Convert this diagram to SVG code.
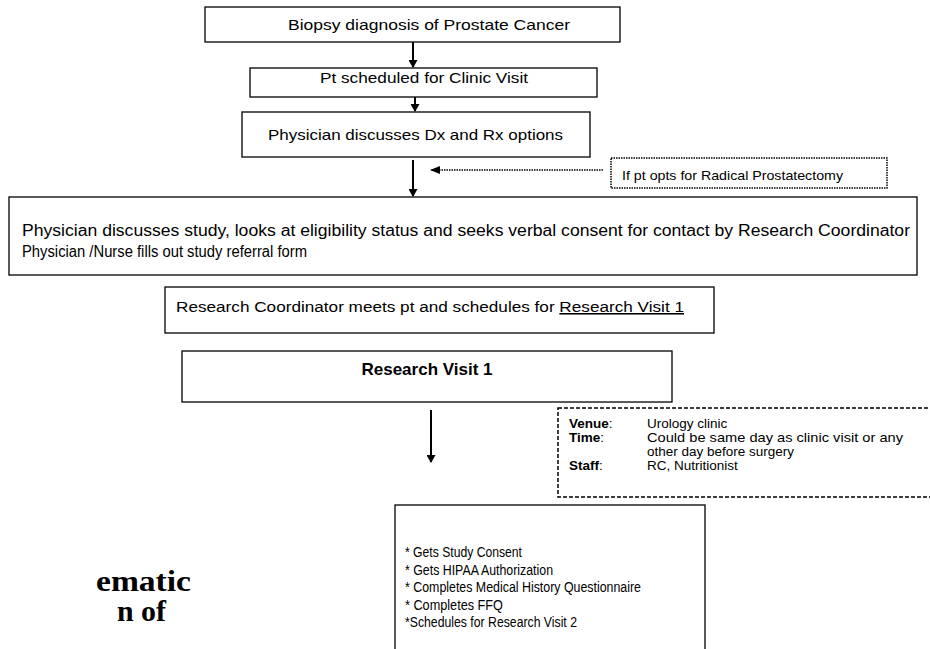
<svg xmlns="http://www.w3.org/2000/svg" width="930" height="649" viewBox="0 0 930 649">
<defs>
<style>
.box{fill:#fff;stroke:#000;stroke-width:1.3}
.t{font-family:"Liberation Sans",Arial,sans-serif;fill:#000}
.conn{stroke:#000;stroke-width:2;fill:none}
.dot{stroke:#000;stroke-width:1.5;fill:none;stroke-dasharray:1.5 1}
.dash{stroke:#000;stroke-width:1.5;fill:none;stroke-dasharray:4 2}
.d{font-size:13.5px}
</style>
<marker id="ah" markerWidth="8" markerHeight="9" refX="7" refY="4.5" orient="auto" markerUnits="userSpaceOnUse">
<path d="M0,0 L8,4.5 L0,9 Z" fill="#000"/>
</marker>
<marker id="ahs" markerWidth="10" markerHeight="8" refX="9" refY="4" orient="auto" markerUnits="userSpaceOnUse">
<path d="M0,0 L10,4 L0,8 Z" fill="#000"/>
</marker>
</defs>
<rect width="930" height="649" fill="#fff"/>
<g id="connectors">
<line class="conn" x1="413" y1="42" x2="413" y2="67" marker-end="url(#ah)"/>
<line class="conn" x1="415" y1="97" x2="415" y2="111" marker-end="url(#ah)"/>
<line class="conn" x1="413" y1="160" x2="413" y2="196" marker-end="url(#ah)"/>
<line class="dot" x1="603" y1="170" x2="431" y2="170" marker-end="url(#ahs)"/>
<line class="conn" x1="431" y1="410" x2="431" y2="462" marker-end="url(#ah)"/>
</g>
<g id="n1">
<rect class="box" x="205" y="7" width="415" height="35"/>
<text class="t" x="288" y="30" font-size="15" textLength="282" lengthAdjust="spacingAndGlyphs">Biopsy diagnosis of Prostate Cancer</text>
</g>
<g id="n2">
<rect class="box" x="250" y="68" width="347" height="29"/>
<text class="t" x="320" y="83" font-size="15" textLength="208" lengthAdjust="spacingAndGlyphs">Pt scheduled for Clinic Visit</text>
</g>
<g id="n3">
<rect class="box" x="242" y="112" width="348" height="45"/>
<text class="t" x="268" y="140" font-size="15" textLength="295" lengthAdjust="spacingAndGlyphs">Physician discusses Dx and Rx options</text>
</g>
<g id="n4">
<rect class="dot" x="611" y="158" width="276" height="30"/>
<text class="t" x="622" y="180" font-size="13" textLength="221" lengthAdjust="spacingAndGlyphs">If pt opts for Radical Prostatectomy</text>
</g>
<g id="n5">
<rect class="box" x="9" y="197" width="908" height="78"/>
<text class="t" x="22" y="236" font-size="16" textLength="888" lengthAdjust="spacingAndGlyphs">Physician discusses study, looks at eligibility status and seeks verbal consent for contact by Research Coordinator</text>
<text class="t" x="22" y="257" font-size="16" textLength="285" lengthAdjust="spacingAndGlyphs">Physician /Nurse fills out study referral form</text>
</g>
<g id="n6">
<rect class="box" x="165" y="287" width="549" height="46"/>
<text class="t" x="176" y="312" font-size="15.5" textLength="508" lengthAdjust="spacingAndGlyphs">Research Coordinator meets pt and schedules for <tspan text-decoration="underline">Research Visit 1</tspan></text>
</g>
<g id="n7">
<rect class="box" x="182" y="351" width="490" height="51"/>
<text class="t" x="427" y="375" font-size="17" font-weight="bold" text-anchor="middle">Research Visit 1</text>
</g>
<g id="n8">
<rect class="dash" x="558" y="408" width="380" height="89"/>
<text class="t d" x="569" y="428"><tspan font-weight="bold">Venue</tspan>:</text>
<text class="t d" x="647" y="428">Urology clinic</text>
<text class="t d" x="569" y="442"><tspan font-weight="bold">Time</tspan>:</text>
<text class="t d" x="647" y="442" textLength="256" lengthAdjust="spacingAndGlyphs">Could be same day as clinic visit or any</text>
<text class="t d" x="647" y="456">other day before surgery</text>
<text class="t d" x="569" y="470"><tspan font-weight="bold">Staff</tspan>:</text>
<text class="t d" x="647" y="470">RC, Nutritionist</text>
</g>
<g id="n9">
<rect class="box" x="395" y="505" width="310" height="160"/>
<text class="t" x="405" y="557" font-size="15.5" textLength="117" lengthAdjust="spacingAndGlyphs">* Gets Study Consent</text>
<text class="t" x="405" y="574.5" font-size="15.5" textLength="148" lengthAdjust="spacingAndGlyphs">* Gets HIPAA Authorization</text>
<text class="t" x="405" y="592" font-size="15.5" textLength="236" lengthAdjust="spacingAndGlyphs">* Completes Medical History Questionnaire</text>
<text class="t" x="405" y="609.5" font-size="15.5" textLength="98" lengthAdjust="spacingAndGlyphs">* Completes FFQ</text>
<text class="t" x="405" y="627" font-size="15.5" textLength="172" lengthAdjust="spacingAndGlyphs">*Schedules for Research Visit 2</text>
</g>
<g id="title">
<text x="96" y="591" font-family="'Liberation Serif','Times New Roman',serif" font-weight="bold" font-size="29" textLength="95" lengthAdjust="spacingAndGlyphs">ematic</text>
<text x="117" y="621" font-family="'Liberation Serif','Times New Roman',serif" font-weight="bold" font-size="29" textLength="49" lengthAdjust="spacingAndGlyphs">n of</text>
</g>
</svg>
